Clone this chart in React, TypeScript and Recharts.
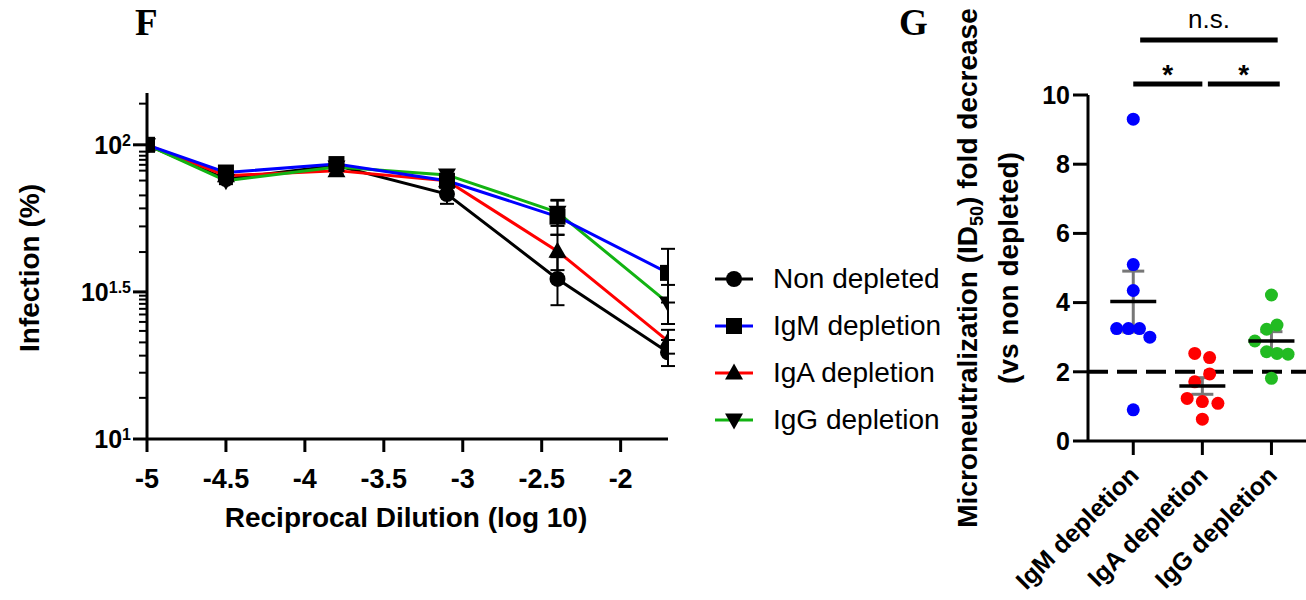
import React from 'react';
import {
  LineChart,
  Line,
  XAxis,
  YAxis,
  ErrorBar,
  Legend,
  ComposedChart,
  Scatter,
  ReferenceLine,
  Label,
} from 'recharts';

// ---- panel F: infection vs dilution ----
const dilution = [-5, -4.5, -3.8, -3.1, -2.4, -1.7];
const nonDepleted = [100, 76.5, 85, 68, 35, 19.7];
const igmDepletion = [100, 80.5, 86, 75.5, 57, 36.7];
const igaDepletion = [100, 78.5, 81.7, 75.5, 43.5, 21.5];
const iggDepletion = [100, 75.5, 84, 79, 59, 29];
const nonDepletedErr = [0, 2, 3, 5, 6.5, 2];
const igmErr = [0, 3, 3, 4, 7.6, 7.6];
const igaErr = [0, 2, 2, 3, 6, 2];
const iggErr = [0, 2, 2, 3, 6, 4.4];

const xTicks = [-5, -4.5, -4, -3.5, -3, -2.5, -2];
const majorTicks = [10, 31.623, 100];
const majorExp = ['1', '1.5', '2'];
const minorTicks = [
  13.8, 16.8, 19.2, 21.3, 23.3, 25.0, 26.5, 27.7, 28.8, 29.8, 30.7,
  43.2, 52.8, 60.8, 67.3, 75.6, 81.7, 85.5, 88.9, 91.8, 94.8, 138,
];

const seriesKeys = ['nonDepleted', 'igm', 'iga', 'igg'];
const seriesNames = ['Non depleted', 'IgM depletion', 'IgA depletion', 'IgG depletion'];
const seriesColors = ['#000000', '#0000ff', '#ff0000', '#12b312'];
const seriesMarkers = ['circle', 'square', 'triangle', 'triangleDown'];
const drawOrder = [0, 2, 3, 1];

// ---- panel G: fold decrease ----
const groups = ['IgM depletion', 'IgA depletion', 'IgG depletion'];
const groupColors = ['#0000ff', '#ff0000', '#22bb22'];
const igmFold = [9.3, 5.1, 4.35, 3.25, 3.25, 3.25, 3.0, 0.9];
const igmJitter = [0, 0, 0, -0.24, -0.07, 0.09, 0.24, 0];
const igaFold = [2.53, 2.41, 1.94, 1.71, 1.23, 1.14, 1.09, 0.63];
const igaJitter = [-0.11, 0.105, 0.105, -0.11, -0.22, 0, 0.225, 0];
const iggFold = [4.22, 3.23, 3.35, 2.89, 2.58, 2.53, 2.51, 1.81];
const iggJitter = [0, -0.07, 0.08, -0.24, -0.07, 0.08, 0.24, 0];
const groupMean = [4.03, 1.59, 2.89];
const groupSem = [0.88, 0.24, 0.27];

const FONT = '"Liberation Sans", Arial, sans-serif';

const lineData = dilution.map((d, i) => ({
  dilution: d,
  nonDepleted: nonDepleted[i],
  nonDepletedErr: nonDepletedErr[i],
  igm: igmDepletion[i],
  igmErr: igmErr[i],
  iga: igaDepletion[i],
  igaErr: igaErr[i],
  igg: iggDepletion[i],
  iggErr: iggErr[i],
}));

const Marker = ({ kind, cx, cy }: { kind: string; cx: number; cy: number }) => {
  if (kind === 'circle') return <circle cx={cx} cy={cy} r={8} fill="#000" />;
  if (kind === 'square') return <rect x={cx - 8} y={cy - 8} width={16} height={16} fill="#000" />;
  if (kind === 'triangle')
    return <polygon points={`${cx},${cy - 9.5} ${cx - 9},${cy + 6.5} ${cx + 9},${cy + 6.5}`} fill="#000" />;
  return <polygon points={`${cx},${cy + 9.5} ${cx - 9},${cy - 6.5} ${cx + 9},${cy - 6.5}`} fill="#000" />;
};

const LogTick = (props: any) => {
  const { x, y, payload } = props;
  const idx = majorTicks.indexOf(payload.value);
  if (idx < 0) return <line x1={x - 8} x2={x} y1={y} y2={y} stroke="#000" strokeWidth={2} />;
  return (
    <g>
      <line x1={x - 14} x2={x} y1={y} y2={y} stroke="#000" strokeWidth={3} />
      <text x={x - 16} y={y + 9} textAnchor="end" fontFamily={FONT} fontWeight="bold" fontSize={25} fill="#000">
        <tspan>10</tspan>
        <tspan fontSize={16} dy={-8}>{majorExp[idx]}</tspan>
      </text>
    </g>
  );
};

const LegendContent = () => (
  <div style={{ fontFamily: FONT, fontSize: 28, color: '#000' }}>
    {seriesKeys.map((k, i) => (
      <div key={k} style={{ display: 'flex', alignItems: 'center', height: 47 }}>
        <svg width={56} height={20} style={{ marginRight: 5 }}>
          <line x1={3} x2={41} y1={10} y2={10} stroke={seriesColors[i]} strokeWidth={3} />
          <Marker kind={seriesMarkers[i]} cx={22} cy={10} />
        </svg>
        <span>{seriesNames[i]}</span>
      </div>
    ))}
  </div>
);

const RotTick = (props: any) => {
  const { x, y, payload } = props;
  const name = groups[payload.value - 1];
  const ax = x + 7;
  const ay = y + 22;
  return (
    <text
      x={ax}
      y={ay}
      transform={`rotate(-45 ${ax} ${ay})`}
      textAnchor="end"
      fontFamily={FONT}
      fontWeight="bold"
      fontSize={25}
      fill="#000"
    >
      {name}
    </text>
  );
};

const MeanShape = (props: any) => {
  const { cx, cy } = props;
  return <line x1={cx - 23} x2={cx + 23} y1={cy} y2={cy} stroke="#000" strokeWidth={3.5} />;
};

const dotShape = (color: string) => (props: any) =>
  <circle cx={props.cx} cy={props.cy} r={6.5} fill={color} />;

const foldSets = [
  igmFold.map((v, i) => ({ x: 1 + igmJitter[i], y: v })),
  igaFold.map((v, i) => ({ x: 2 + igaJitter[i], y: v })),
  iggFold.map((v, i) => ({ x: 3 + iggJitter[i], y: v })),
];
const meanData = groupMean.map((m, i) => ({ x: i + 1, y: m, sem: groupSem[i] }));

export default function App() {
  return (
    <div style={{ position: 'absolute', left: 0, top: 0, width: 1306, height: 600, background: '#fff' }}>
      <div style={{ position: 'absolute', left: 135, top: 1, fontFamily: '"Liberation Serif", serif', fontWeight: 'bold', fontSize: 37 }}>F</div>
      <div style={{ position: 'absolute', left: 899, top: 1, fontFamily: '"Liberation Serif", serif', fontWeight: 'bold', fontSize: 37 }}>G</div>

      <div style={{ position: 'absolute', left: 0, top: 0 }}>
        <LineChart width={940} height={600} data={lineData} margin={{ top: 93, right: 272, bottom: 51, left: 0 }}>
          <XAxis
            dataKey="dilution"
            type="number"
            domain={[-5, -1.7]}
            ticks={xTicks}
            interval={0}
            allowDataOverflow
            height={110}
            axisLine={{ stroke: '#000', strokeWidth: 3 }}
            tickLine={{ stroke: '#000', strokeWidth: 3 }}
            tickSize={13}
            tickMargin={17}
            tick={{ fill: '#000', fontSize: 27, fontWeight: 'bold', fontFamily: FONT }}
          >
            <Label
              content={() => (
                <text x={406} y={527} textAnchor="middle" fontFamily={FONT} fontWeight="bold" fontSize={28} fill="#000">
                  Reciprocal Dilution (log 10)
                </text>
              )}
            />
          </XAxis>
          <YAxis
            scale="log"
            domain={[10, 150]}
            allowDataOverflow
            ticks={[...majorTicks, ...minorTicks]}
            interval={0}
            width={147}
            axisLine={{ stroke: '#000', strokeWidth: 3 }}
            tickLine={false}
            tickSize={0}
            tickMargin={0}
            tick={<LogTick />}
          >
            <Label
              content={() => (
                <text
                  x={39}
                  y={268}
                  transform="rotate(-90 39 268)"
                  textAnchor="middle"
                  fontFamily={FONT}
                  fontWeight="bold"
                  fontSize={28}
                  fill="#000"
                >
                  Infection (%)
                </text>
              )}
            />
          </YAxis>
          <Legend
            layout="vertical"
            align="center"
            verticalAlign="middle"
            content={<LegendContent />}
            wrapperStyle={{ left: 712, top: 255, width: 240 }}
          />
          {drawOrder.map((i) => (
            <Line
              key={seriesKeys[i]}
              dataKey={seriesKeys[i]}
              name={seriesNames[i]}
              type="linear"
              stroke={seriesColors[i]}
              strokeWidth={3}
              isAnimationActive={false}
              dot={(p: any) => <Marker key={`${seriesKeys[i]}-${p.index}`} kind={seriesMarkers[i]} cx={p.cx} cy={p.cy} />}
              activeDot={false}
            >
              <ErrorBar dataKey={`${seriesKeys[i]}Err`} direction="y" width={7} stroke="#000" strokeWidth={2} />
            </Line>
          ))}
        </LineChart>
      </div>

      <div style={{ position: 'absolute', left: 940, top: 0 }}>
        <ComposedChart width={366} height={600} margin={{ top: 95, right: 0, bottom: 0, left: 0 }}>
          <XAxis
            dataKey="x"
            type="number"
            domain={[0.345, 3.5]}
            allowDataOverflow
            ticks={[1, 2, 3]}
            interval={0}
            height={159}
            axisLine={{ stroke: '#000', strokeWidth: 3 }}
            tickLine={{ stroke: '#000', strokeWidth: 3 }}
            tickSize={14}
            tickMargin={0}
            tick={<RotTick />}
          />
          <YAxis
            dataKey="y"
            type="number"
            domain={[0, 10]}
            allowDataOverflow
            ticks={[0, 2, 4, 6, 8, 10]}
            interval={0}
            width={148}
            axisLine={{ stroke: '#000', strokeWidth: 3 }}
            tickLine={{ stroke: '#000', strokeWidth: 3 }}
            tickSize={15}
            tickMargin={3}
            tick={{ fill: '#000', fontSize: 25, fontWeight: 'bold', fontFamily: FONT }}
          >
            <Label
              content={() => (
                <g fontFamily={FONT} fontWeight="bold" fontSize={28} fill="#000">
                  <text x={37} y={268} transform="rotate(-90 37 268)" textAnchor="middle">
                    <tspan>Microneutralization (ID</tspan>
                    <tspan fontSize={18} dy={6}>50</tspan>
                    <tspan dy={-6}>) fold decrease</tspan>
                  </text>
                  <text x={78} y={268} transform="rotate(-90 78 268)" textAnchor="middle">
                    (vs non depleted)
                  </text>
                </g>
              )}
            />
          </YAxis>
          <ReferenceLine y={2} stroke="#000" strokeWidth={4} strokeDasharray="20 9" />
          {foldSets.map((set, i) => (
            <Scatter key={groups[i]} data={set} dataKey="y" isAnimationActive={false} shape={dotShape(groupColors[i])} />
          ))}
          <Scatter data={meanData} dataKey="y" isAnimationActive={false} shape={<MeanShape />}>
            <ErrorBar dataKey="sem" direction="y" width={11} stroke="#777" strokeWidth={3} />
          </Scatter>
          <ReferenceLine
            segment={[{ x: 1.0, y: 10.32 }, { x: 2.0, y: 10.32 }]}
            stroke="#000"
            strokeWidth={5}
            ifOverflow="visible"
            label={{ value: '*', position: 'top', offset: 0, fill: '#000', fontSize: 28, fontWeight: 'bold', fontFamily: FONT }}
          />
          <ReferenceLine
            segment={[{ x: 2.08, y: 10.32 }, { x: 3.12, y: 10.32 }]}
            stroke="#000"
            strokeWidth={5}
            ifOverflow="visible"
            label={{ value: '*', position: 'top', offset: 0, fill: '#000', fontSize: 28, fontWeight: 'bold', fontFamily: FONT }}
          />
          <ReferenceLine
            segment={[{ x: 1.1, y: 11.59 }, { x: 3.09, y: 11.59 }]}
            stroke="#000"
            strokeWidth={5}
            ifOverflow="visible"
            label={{ value: 'n.s.', position: 'top', offset: 12, fill: '#000', fontSize: 26, fontFamily: FONT }}
          />
        </ComposedChart>
      </div>
    </div>
  );
}
